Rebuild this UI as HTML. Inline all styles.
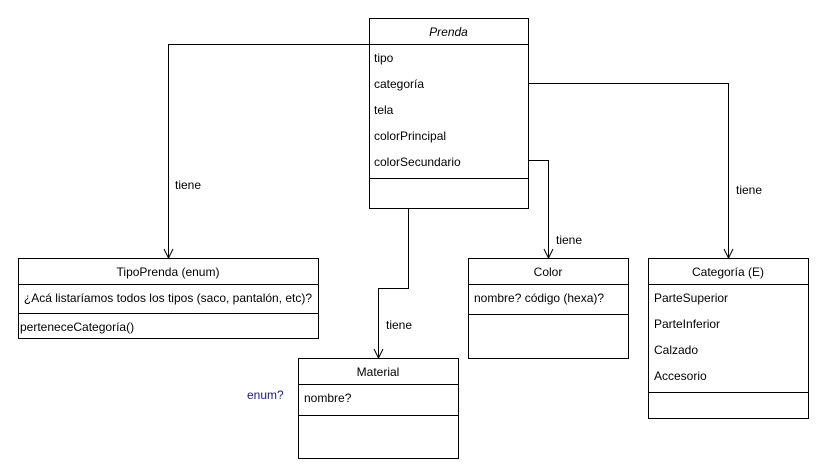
<!DOCTYPE html>
<html><head><meta charset="utf-8"><style>body{margin:0;background:#fff}svg{display:block}text{font-family:"Liberation Sans",sans-serif;font-size:12px;fill:#000}</style></head><body>
<svg width="821" height="472" viewBox="0 0 821 472">
<g fill="none" stroke="#000" stroke-width="1">
<rect x="369.5" y="18.5" width="159" height="190"/><line x1="369" y1="44.5" x2="528" y2="44.5"/><line x1="369" y1="178.5" x2="528" y2="178.5"/>
<rect x="18.5" y="258.5" width="300" height="80"/><line x1="18" y1="284.5" x2="318" y2="284.5"/><line x1="18" y1="313.5" x2="318" y2="313.5"/>
<rect x="298.5" y="358.5" width="160" height="100"/><line x1="298" y1="384.5" x2="458" y2="384.5"/><line x1="298" y1="415.5" x2="458" y2="415.5"/>
<rect x="468.5" y="258.5" width="160" height="100"/><line x1="468" y1="284.5" x2="628" y2="284.5"/><line x1="468" y1="314.5" x2="628" y2="314.5"/>
<rect x="648.5" y="258.5" width="160" height="160"/><line x1="648" y1="284.5" x2="808" y2="284.5"/><line x1="648" y1="392.5" x2="808" y2="392.5"/>
<polyline points="369,44.5 168.5,44.5 168.5,257"/><polyline points="164,249 168.5,258 173,249"/>
<polyline points="528,83.5 728.5,83.5 728.5,257"/><polyline points="724,249 728.5,258 733,249"/>
<polyline points="528,160.5 548.5,160.5 548.5,257"/><polyline points="544,249 548.5,258 553,249"/>
<polyline points="408.5,208 408.5,288.5 378.5,288.5 378.5,357"/><polyline points="374,349 378.5,358 383,349"/>
</g>
<text x="448.5" y="36" text-anchor="middle" font-style="italic">Prenda</text>
<text x="374" y="62">tipo</text><text x="374" y="88">categoría</text><text x="374" y="114">tela</text><text x="374" y="140">colorPrincipal</text><text x="374" y="166">colorSecundario</text>
<text x="168" y="276" text-anchor="middle">TipoPrenda (enum)</text>
<text x="168" y="302" text-anchor="middle">¿Acá listaríamos todos los tipos (saco, pantalón, etc)?</text>
<text x="20" y="331">perteneceCategoría()</text>
<text x="378" y="376" text-anchor="middle">Material</text><text x="304" y="402">nombre?</text>
<text x="548" y="276" text-anchor="middle">Color</text><text x="474" y="302">nombre? código (hexa)?</text>
<text x="728" y="276" text-anchor="middle">Categoría (E)</text>
<text x="654" y="302">ParteSuperior</text><text x="654" y="328">ParteInferior</text><text x="654" y="354">Calzado</text><text x="654" y="380">Accesorio</text>
<text x="175" y="189">tiene</text><text x="736" y="194">tiene</text><text x="556" y="244">tiene</text><text x="386" y="329">tiene</text>
<text x="247" y="399" style="fill:#1a1a8c">enum?</text>
</svg>
</body></html>
